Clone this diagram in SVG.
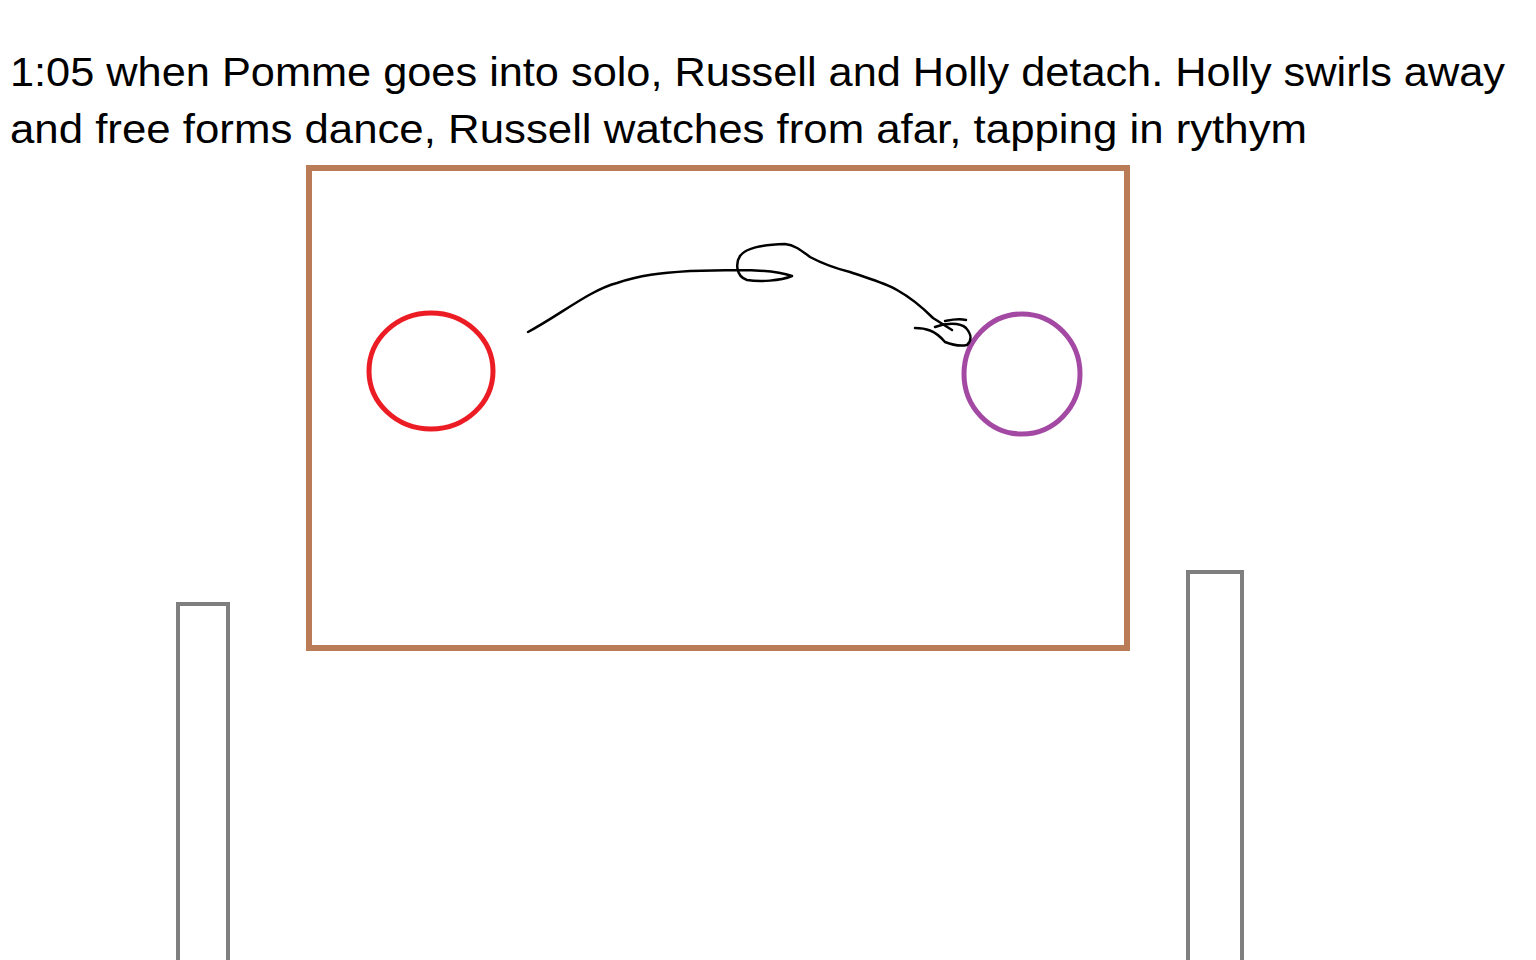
<svg xmlns="http://www.w3.org/2000/svg" width="1536" height="960" viewBox="0 0 1536 960">
<style>
text{font-family:"Liberation Sans","Noto Sans",sans-serif;font-size:40px;fill:#000}
.post{fill:none;stroke:#7f7f7f;stroke-width:4}
</style>
<rect width="1536" height="960" fill="#fff"/>
<text x="10" y="86" textLength="1495" lengthAdjust="spacingAndGlyphs">1:05 when Pomme goes into solo, Russell and Holly detach. Holly swirls away</text>
<text x="10" y="143" textLength="1297" lengthAdjust="spacingAndGlyphs">and free forms dance, Russell watches from afar, tapping in rythym</text>
<g id="stage"><rect x="309" y="168" width="818" height="480" fill="none" stroke="#b97c57" stroke-width="6"/></g>
<g id="post-left"><rect x="178" y="604" width="50" height="370" class="post"/></g>
<g id="post-right"><rect x="1188" y="572" width="54" height="400" class="post"/></g>
<g id="russell"><ellipse cx="431" cy="371" rx="62" ry="58" fill="none" stroke="#ec1c24" stroke-width="5"/></g>
<g id="holly"><ellipse cx="1022" cy="374" rx="58" ry="60" fill="none" stroke="#a349a4" stroke-width="5"/></g>
<g id="connectors" fill="none" stroke="#000" stroke-width="2.5" stroke-linecap="round" stroke-linejoin="round">
<path d="M528,332 C560,315 590,290 617,283 C640,275 660,273 690,271 L737,270 C760,270 780,272 792,276 C780,281 760,282 747,280 C735,276 736,262 740,256 C746,248 760,245 785,244 C795,245 802,251 810,257 C825,265 838,269 850,272 C870,279 885,283 897,290 C915,300 925,310 933,318 L952,330"/>
<path d="M915,328 C925,328 935,330 945,342 C955,346 962,346 967,345 C972,340 972,335 966,328 C960,322 945,323 935,327 M945,321 C950,320 958,318 966,320"/>
</g>
</svg>
